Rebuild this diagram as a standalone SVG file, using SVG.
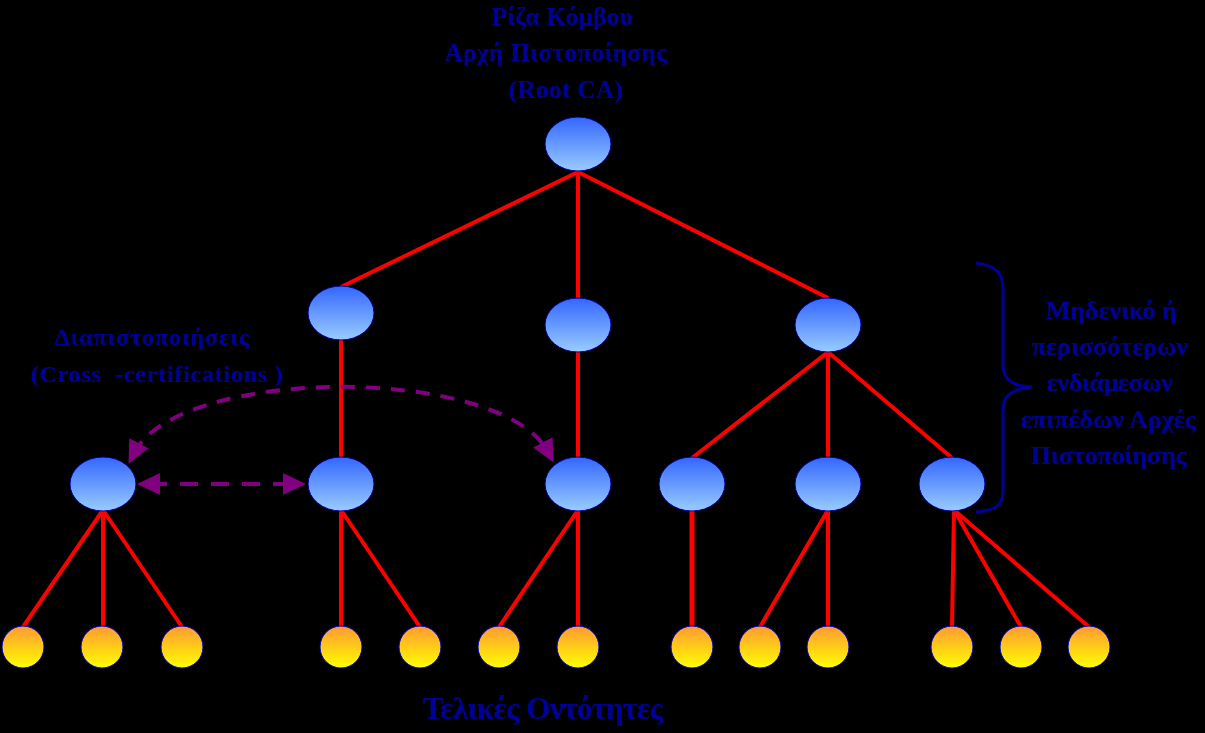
<svg xmlns="http://www.w3.org/2000/svg" width="1205" height="733" viewBox="0 0 1205 733">
<style>
.t{font-family:"Liberation Serif","Times New Roman",serif;font-weight:bold;fill:#000099}
.top{font-size:25px}
.lft{font-size:24px}
.rgt{font-size:26px}
.bot{font-size:31px}
.ln{stroke:#ff0000;stroke-width:4;fill:none}
.ca{fill:url(#gca);stroke:#000099;stroke-width:1}
.ee{fill:url(#gee);stroke:#0000cc;stroke-width:1}
.cc{stroke:#800080;stroke-width:4;fill:none}
</style>
<defs>
<linearGradient id="gca" x1="0" y1="0" x2="0" y2="1">
<stop offset="0" stop-color="#3366ff"/>
<stop offset="1" stop-color="#99ccff"/>
</linearGradient>
<linearGradient id="gee" x1="0" y1="0" x2="0" y2="1">
<stop offset="0" stop-color="#ff9933"/>
<stop offset="1" stop-color="#ffff00"/>
</linearGradient>
<marker id="ah" markerUnits="userSpaceOnUse" markerWidth="24" markerHeight="22" refX="11" refY="11" orient="auto-start-reverse" viewBox="0 0 24 22">
<path d="M0,0 L23,11 L0,22 z" fill="#800080"/>
</marker>
</defs>
<rect width="1205" height="733" fill="#000000"/>

<g id="connectors">
<line class="ln" x1="578" y1="172" x2="341" y2="287"/>
<line class="ln" x1="578" y1="172" x2="578" y2="298"/>
<line class="ln" x1="578" y1="172" x2="828" y2="298"/>
<line class="ln" x1="341" y1="340" x2="341" y2="457"/>
<line class="ln" x1="578" y1="352" x2="578" y2="457"/>
<line class="ln" x1="828" y1="352" x2="692" y2="458"/>
<line class="ln" x1="828" y1="352" x2="828" y2="457"/>
<line class="ln" x1="828" y1="352" x2="952" y2="458"/>
<line class="ln" x1="103" y1="510" x2="23" y2="627"/>
<line class="ln" x1="103" y1="510" x2="103" y2="627"/>
<line class="ln" x1="103" y1="510" x2="182" y2="627"/>
<line class="ln" x1="341" y1="510" x2="341" y2="627"/>
<line class="ln" x1="341" y1="510" x2="420" y2="627"/>
<line class="ln" x1="578" y1="510" x2="499" y2="627"/>
<line class="ln" x1="578" y1="510" x2="578" y2="627"/>
<line class="ln" x1="692" y1="510" x2="692" y2="627" style="stroke-width:5"/>
<line class="ln" x1="828" y1="510" x2="760" y2="627"/>
<line class="ln" x1="828" y1="510" x2="828" y2="627"/>
<line class="ln" x1="954" y1="510" x2="952" y2="627"/>
<line class="ln" x1="954" y1="510" x2="1021" y2="627"/>
<line class="ln" x1="954" y1="510" x2="1089" y2="627"/>
<path class="cc" d="M134,453 C180,365 502,365 548,452" stroke-dasharray="14 11" marker-start="url(#ah)" marker-end="url(#ah)"/>
<path class="cc" d="M149,484 L294,484" stroke-dasharray="18 13" marker-start="url(#ah)" marker-end="url(#ah)"/>
</g>

<g id="root"><ellipse class="ca" cx="578" cy="144" rx="33" ry="27"/></g>
<g id="ca-l2-1"><ellipse class="ca" cx="341" cy="313" rx="33" ry="27"/></g>
<g id="ca-l2-2"><ellipse class="ca" cx="578" cy="325" rx="33" ry="27"/></g>
<g id="ca-l2-3"><ellipse class="ca" cx="828" cy="325" rx="33" ry="27"/></g>
<g id="ca-l3-1"><ellipse class="ca" cx="103" cy="484" rx="33" ry="27"/></g>
<g id="ca-l3-2"><ellipse class="ca" cx="341" cy="484" rx="33" ry="27"/></g>
<g id="ca-l3-3"><ellipse class="ca" cx="578" cy="484" rx="33" ry="27"/></g>
<g id="ca-l3-4"><ellipse class="ca" cx="692" cy="484" rx="33" ry="27"/></g>
<g id="ca-l3-5"><ellipse class="ca" cx="828" cy="484" rx="33" ry="27"/></g>
<g id="ca-l3-6"><ellipse class="ca" cx="952" cy="484" rx="33" ry="27"/></g>

<g id="ee-1"><circle class="ee" cx="23" cy="647" r="21"/></g>
<g id="ee-2"><circle class="ee" cx="102" cy="647" r="21"/></g>
<g id="ee-3"><circle class="ee" cx="182" cy="647" r="21"/></g>
<g id="ee-4"><circle class="ee" cx="341" cy="647" r="21"/></g>
<g id="ee-5"><circle class="ee" cx="420" cy="647" r="21"/></g>
<g id="ee-6"><circle class="ee" cx="499" cy="647" r="21"/></g>
<g id="ee-7"><circle class="ee" cx="578" cy="647" r="21"/></g>
<g id="ee-8"><circle class="ee" cx="692" cy="647" r="21"/></g>
<g id="ee-9"><circle class="ee" cx="760" cy="647" r="21"/></g>
<g id="ee-10"><circle class="ee" cx="828" cy="647" r="21"/></g>
<g id="ee-11"><circle class="ee" cx="952" cy="647" r="21"/></g>
<g id="ee-12"><circle class="ee" cx="1021" cy="647" r="21"/></g>
<g id="ee-13"><circle class="ee" cx="1089" cy="647" r="21"/></g>

<g id="brace">
<path d="M976,263 C998,266 1003,274 1003,290 L1003,365 C1003,380 1012,386 1032,387 C1012,389 1003,395 1003,410 L1003,490 C1003,505 997,510 976,512" fill="none" stroke="#000099" stroke-width="3"/>
</g>

<g id="labels">
<text class="t top" x="492" y="25" textLength="141" lengthAdjust="spacing">Ρίζα Κόμβου</text>
<text class="t top" x="445" y="61" textLength="222" lengthAdjust="spacing">Αρχή Πιστοποίησης</text>
<text class="t top" x="509" y="98" textLength="114" lengthAdjust="spacing">(Root CA)</text>
<text class="t lft" x="55" y="345" textLength="194" lengthAdjust="spacing">Διαπιστοποιήσεις</text>
<text class="t lft" x="31" y="382" textLength="252" lengthAdjust="spacing" xml:space="preserve">(Cross  -certifications )</text>
<text class="t rgt" x="1046" y="319" textLength="131" lengthAdjust="spacing">Μηδενικό ή</text>
<text class="t rgt" x="1032" y="355" textLength="156" lengthAdjust="spacing">περισσότερων</text>
<text class="t rgt" x="1047" y="391" textLength="126" lengthAdjust="spacing">ενδιάμεσων</text>
<text class="t rgt" x="1021" y="428" textLength="175" lengthAdjust="spacing">επιπέδων Αρχές</text>
<text class="t rgt" x="1031" y="464" textLength="156" lengthAdjust="spacing">Πιστοποίησης</text>
<text class="t bot" x="423" y="719" textLength="240" lengthAdjust="spacing">Τελικές Οντότητες</text>
</g>
</svg>
